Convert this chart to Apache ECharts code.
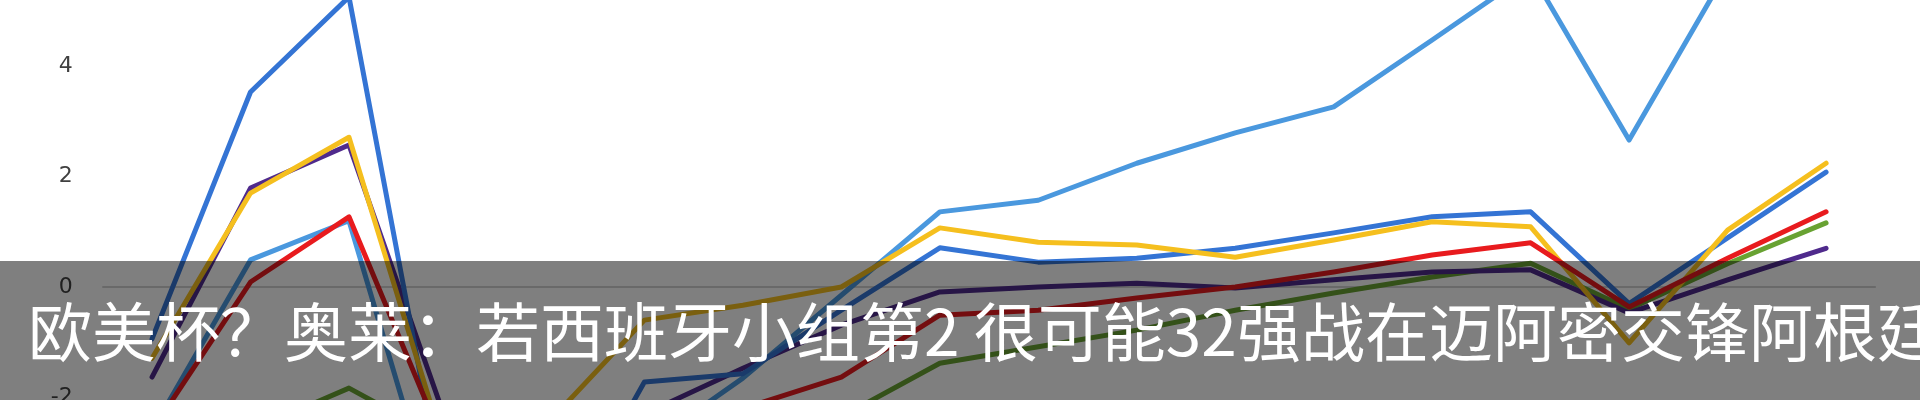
<!DOCTYPE html>
<html>
<head>
<meta charset="utf-8">
<script src="https://cdn.jsdelivr.net/npm/echarts@6/dist/echarts.min.js"></script>
<style>
html,body{margin:0;padding:0;background:#fff;}
#chart{width:1920px;height:400px;}
</style>
</head>
<body>
<div id="chart"></div>
<script>
var categories = ['1','2','3','4','5','6','7','8','9','10','11','12','13','14','15','16','17','18'];
var yTicks = ['-6','-4','-2','0','2','4','6'];
var royalBlue = [-0.94, 3.53, 5.25, -4.2, -4.9, -1.72, -1.57, -0.42, 0.71, 0.45, 0.52, 0.70, 0.98, 1.27, 1.36, -0.30, 0.89, 2.08];
var skyBlue   = [-2.6, 0.49, 1.20, -4.8, -3.6, -2.9, -1.65, -0.15, 1.36, 1.57, 2.24, 2.79, 3.26, 4.47, 5.70, 2.66, 5.74, 5.90];
var yellow    = [-1.29, 1.70, 2.71, -3.1, -2.5, -0.60, -0.33, 0.00, 1.07, 0.81, 0.76, 0.54, 0.85, 1.18, 1.09, -1.01, 1.03, 2.24];
var purple    = [-1.63, 1.79, 2.57, -2.5, -3.0, -2.3, -1.47, -0.69, -0.09, 0.00, 0.07, -0.02, 0.13, 0.27, 0.31, -0.47, 0.13, 0.70];
var red       = [-2.6, 0.09, 1.27, -3.0, -3.0, -2.7, -2.2, -1.63, -0.51, -0.42, -0.20, 0.00, 0.27, 0.58, 0.80, -0.36, 0.52, 1.36];
var green     = [-3.5, -2.6, -1.83, -2.8, -4.0, -3.5, -3.0, -2.35, -1.38, -1.08, -0.78, -0.42, -0.11, 0.18, 0.43, -0.40, 0.42, 1.16];
var caption = '欧美杯？奥莱：若西班牙小组第2 很可能32强战在迈阿密交锋阿根廷';

var seriesDefs = [
  {name:'green', data:green, color:'#68A232'},
  {name:'purple', data:purple, color:'#4F2A8C'},
  {name:'skyBlue', data:skyBlue, color:'#4A98DE'},
  {name:'royalBlue', data:royalBlue, color:'#3474D4'},
  {name:'yellow', data:yellow, color:'#F5BF1E'},
  {name:'red', data:red, color:'#E81B1E'}
];

var chart = echarts.init(document.getElementById('chart'), null, {renderer:'canvas'});
chart.setOption({
  animation:false,
  backgroundColor:'#ffffff',
  grid:{left:102.8, width:1772.5, top:-44.5, height:663, containLabel:false, outerBoundsMode:'none'},
  xAxis:{
    type:'category', data:categories, boundaryGap:true,
    axisLine:{show:true, onZero:true, lineStyle:{color:'#c4c4c4', width:1.5}},
    axisTick:{show:false}, axisLabel:{show:false}, splitLine:{show:false}
  },
  yAxis:{
    type:'value', min:-6, max:6, interval:2,
    axisLine:{show:false}, axisTick:{show:false}, splitLine:{show:false},
    axisLabel:{
      margin:30, fontSize:22, color:'#404040', fontFamily:'DejaVu Sans',
      formatter:function(v){ var s = String(v); return yTicks.indexOf(s) >= 0 ? s : ''; }
    }
  },
  series: seriesDefs.map(function(s){
    return {
      type:'line', name:s.name, data:s.data, symbol:'none', showSymbol:false,
      clip:true,
      lineStyle:{color:s.color, width:5, join:'round', cap:'round'},
      itemStyle:{color:s.color}
    };
  }),
  graphic:[
    {type:'rect', z:100, shape:{x:0, y:261, width:1920, height:139}, style:{fill:'rgba(0,0,0,0.5)'}},
    {type:'text', z:101, x:28, y:332, style:{
      text:caption, fill:'#ffffff', fontSize:64,
      fontFamily:'"Noto Sans CJK SC", "Noto Sans", sans-serif',
      verticalAlign:'middle', align:'left'
    }}
  ]
});
</script>
</body>
</html>
